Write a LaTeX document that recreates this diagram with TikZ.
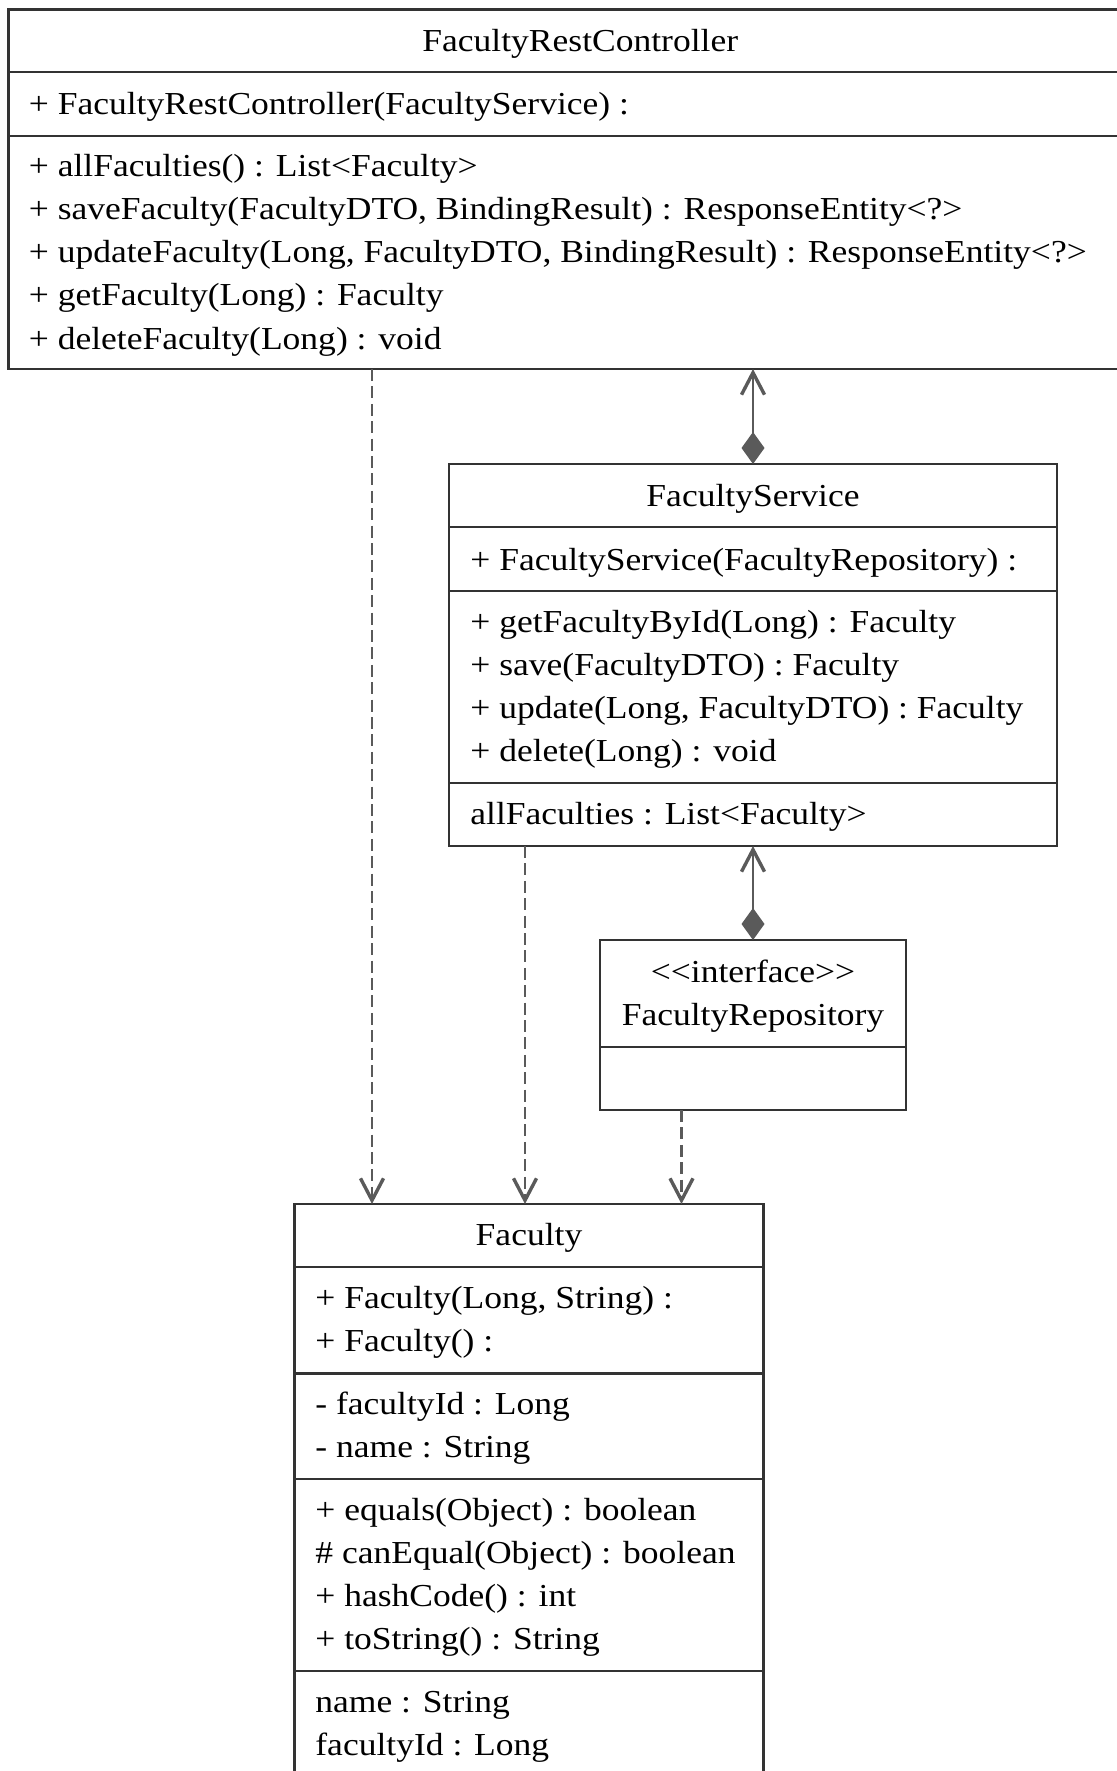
\documentclass[tikz,border=0pt]{standalone}
\usepackage{fontspec}
\setmainfont{Liberation Serif}[FakeStretch=1.11]
\usetikzlibrary{arrows.meta}

\definecolor{boxline}{HTML}{333333}
\definecolor{linkline}{HTML}{5A5A5A}

\tikzset{
  classbox/.style={draw=boxline, line width=1.3pt, fill=white, rectangle,
    inner sep=0pt, outer sep=0pt},
  sepline/.style={draw=boxline, line width=1.3pt},
  rowtext/.style={anchor=base west, inner sep=0pt, text=black,
    font=\fontsize{16}{19}\selectfont},
  titletext/.style={anchor=base, inner sep=0pt, text=black,
    font=\fontsize{16}{19}\selectfont},
  openhead/.tip={Straight Barb[length=11pt, width=11.5pt, line width=1.7pt]},
  depend/.style={draw=linkline, line width=1.3pt, dash pattern=on 6pt off 2.7pt,
    -openhead},
  compose/.style={draw=linkline, line width=1.3pt,
    {Diamond[length=16pt, width=11.5pt, fill=linkline]}-openhead},
}

% one text row of a class compartment
\newcommand\classrow[4]{\node[rowtext] (#1) at (#2,#3) {#4};}

\begin{document}
\begin{tikzpicture}[x=0.5pt, y=-0.5pt]
\useasboundingbox (0,0) rectangle (1117,1771);
\clip (0,0) rectangle (1117,1771);

% ---------- FacultyRestController ----------
\node[classbox, minimum width=571.75pt, minimum height=179.75pt] (ctl) at (580.25,189.25) {};
\draw[sepline] (ctl.west |- 0,72) -- (ctl.east |- 0,72);
\draw[sepline] (ctl.west |- 0,136) -- (ctl.east |- 0,136);
\node[titletext] (ctl-title) at (580.25,52) {FacultyRestController};
\classrow{ctl-c1}{28.5}{115}{+ FacultyRestController(FacultyService) :}
\classrow{ctl-m1}{28.5}{177}{+ allFaculties() : List<Faculty>}
\classrow{ctl-m2}{28.5}{220}{+ saveFaculty(FacultyDTO, BindingResult) : ResponseEntity<?>}
\classrow{ctl-m3}{28.5}{263}{+ updateFaculty(Long, FacultyDTO, BindingResult) : ResponseEntity<?>}
\classrow{ctl-m4}{28.5}{306}{+ getFaculty(Long) : Faculty}
\classrow{ctl-m5}{28.5}{349}{+ deleteFaculty(Long) : void}

% ---------- FacultyService ----------
\node[classbox, minimum width=304pt, minimum height=191pt] (svc) at (753,655) {};
\draw[sepline] (svc.west |- 0,527) -- (svc.east |- 0,527);
\draw[sepline] (svc.west |- 0,591) -- (svc.east |- 0,591);
\draw[sepline] (svc.west |- 0,783) -- (svc.east |- 0,783);
\node[titletext] (svc-title) at (753,506) {FacultyService};
\classrow{svc-c1}{470}{570}{+ FacultyService(FacultyRepository) :}
\classrow{svc-m1}{470}{632.5}{+ getFacultyById(Long) : Faculty}
\classrow{svc-m2}{470}{675.5}{+ save(FacultyDTO) : Faculty}
\classrow{svc-m3}{470}{718.5}{+ update(Long, FacultyDTO) : Faculty}
\classrow{svc-m4}{470}{761.5}{+ delete(Long) : void}
\classrow{svc-f1}{470}{824}{allFaculties : List<Faculty>}

% ---------- FacultyRepository ----------
\node[classbox, minimum width=153pt, minimum height=85pt] (repo) at (753,1025) {};
\draw[sepline] (repo.west |- 0,1047) -- (repo.east |- 0,1047);
\node[titletext] (repo-stereo) at (753,982) {<{}<interface>{}>};
\node[titletext] (repo-title) at (753,1025) {FacultyRepository};

% ---------- Faculty ----------
\node[classbox, minimum width=234.5pt, minimum height=298pt] (fac) at (529,1502) {};
\draw[sepline] (fac.west |- 0,1267) -- (fac.east |- 0,1267);
\draw[sepline] (fac.west |- 0,1373.5) -- (fac.east |- 0,1373.5);
\draw[sepline] (fac.west |- 0,1479) -- (fac.east |- 0,1479);
\draw[sepline] (fac.west |- 0,1671) -- (fac.east |- 0,1671);
\node[titletext] (fac-title) at (529,1245.5) {Faculty};
\classrow{fac-c1}{315}{1308.5}{+ Faculty(Long, String) :}
\classrow{fac-c2}{315}{1351.5}{+ Faculty() :}
\classrow{fac-f1}{315}{1414.5}{- facultyId : Long}
\classrow{fac-f2}{315}{1457.5}{- name : String}
\classrow{fac-m1}{315}{1520.5}{+ equals(Object) : boolean}
\classrow{fac-m2}{315}{1563.5}{\# canEqual(Object) : boolean}
\classrow{fac-m3}{315}{1606.5}{+ hashCode() : int}
\classrow{fac-m4}{315}{1649.5}{+ toString() : String}
\classrow{fac-g1}{315}{1712}{name : String}
\classrow{fac-g2}{315}{1755}{facultyId : Long}

% ---------- connectors ----------
\coordinate (dx1) at (372,0);
\coordinate (dx2) at (525,0);
\coordinate (dx3) at (681.5,0);

\draw[compose] (svc.north) -- (svc.north |- ctl.south);
\draw[compose] (repo.north) -- (svc.south);

\draw[depend] (ctl.south -| dx1) -- (fac.north -| dx1);
\draw[depend] (svc.south -| dx2) -- (fac.north -| dx2);
\draw[depend] (repo.south -| dx3) -- (fac.north -| dx3);
\end{tikzpicture}
\end{document}
